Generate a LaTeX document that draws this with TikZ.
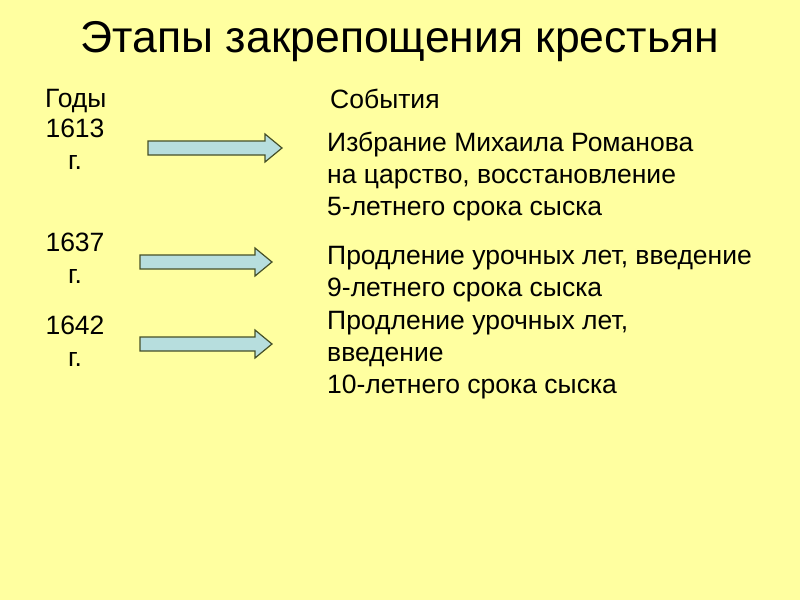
\documentclass[tikz,border=0pt]{standalone}
\usepackage{fontspec}
\setmainfont{Liberation Sans}
\definecolor{bgyellow}{RGB}{255,255,160}
\definecolor{arrowfill}{RGB}{183,222,222}
\definecolor{arrowline}{RGB}{70,80,40}
\tikzset{
  txt/.style={anchor=north west, align=left, inner sep=0pt, font=\fontsize{26.5}{32}\selectfont},
  yearbox/.style={anchor=north, align=center, inner sep=0pt, font=\fontsize{26.5}{32}\selectfont},
  fatarrow/.style={draw=arrowline, fill=arrowfill, line width=1.2pt, line join=miter}
}
% arrow: start x, end x, centre y
\newcommand{\fatArrow}[3]{%
  \draw[fatarrow] (#1,#3-7) -- (#2-17,#3-7) -- (#2-17,#3-14) -- (#2,#3)
    -- (#2-17,#3+14) -- (#2-17,#3+7) -- (#1,#3+7) -- cycle;}
\begin{document}
\begin{tikzpicture}[x=1pt,y=-1pt]
  % background
  \fill[bgyellow] (0,0) rectangle (800,600);
  \useasboundingbox (0,0) rectangle (800,600);

  % title
  \node[inner sep=0pt, font=\fontsize{44.5}{46}\selectfont] (title) at (400,42) {Этапы закрепощения крестьян};

  % column heads
  \node[txt] (years) at (45,89) {Годы};
  \node[txt] (events) at (330,89) {События};

  % years
  \node[yearbox] (y1) at (75,119) {1613\\г.};
  \node[yearbox] (y2) at (75,233) {1637\\г.};
  \node[yearbox] (y3) at (75,316) {1642\\г.};

  % arrows
  \fatArrow{148}{282}{148}
  \fatArrow{140}{272}{262}
  \fatArrow{140}{272}{344}

  % events
  \node[txt] (e1) at (327,132) {Избрание Михаила Романова\\на царство, восстановление\\5-летнего срока сыска};
  \node[txt] (e2) at (327,246) {Продление урочных лет, введение\\9-летнего срока сыска};
  \node[txt] (e3) at (327,311) {Продление урочных лет,\\введение\\10-летнего срока сыска};
\end{tikzpicture}
\end{document}
